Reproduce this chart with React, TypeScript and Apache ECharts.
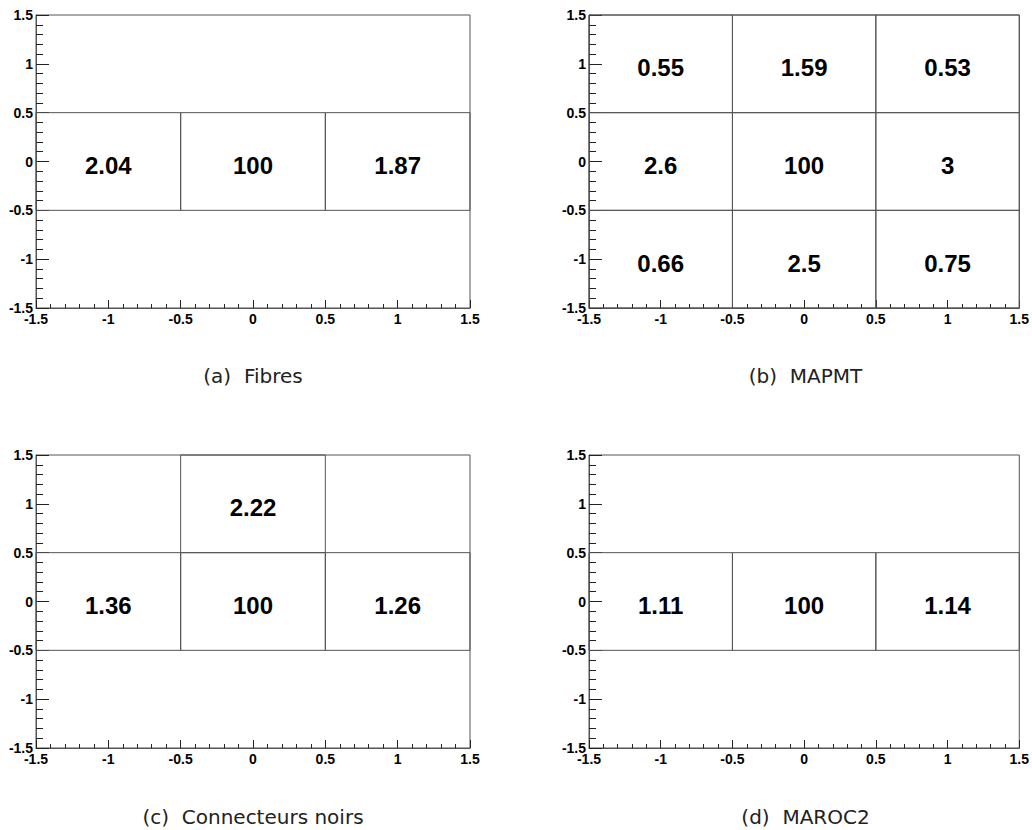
import React, { useEffect, useRef } from "react";
import * as echarts from "echarts";

// ---- data ----
const captions = ["(a)\u00a0\u00a0Fibres", "(b)\u00a0\u00a0MAPMT", "(c)\u00a0\u00a0Connecteurs noirs", "(d)\u00a0\u00a0MAROC2"];
const axisTicks = [-1.5, -1, -0.5, 0, 0.5, 1, 1.5];

// cells: [x, y, value]
const fibresCells: number[][] = [
  [-1, 0, 2.04],
  [0, 0, 100],
  [1, 0, 1.87],
];
const mapmtCells: number[][] = [
  [-1, 1, 0.55],
  [0, 1, 1.59],
  [1, 1, 0.53],
  [-1, 0, 2.6],
  [0, 0, 100],
  [1, 0, 3],
  [-1, -1, 0.66],
  [0, -1, 2.5],
  [1, -1, 0.75],
];
const connecteursCells: number[][] = [
  [0, 1, 2.22],
  [-1, 0, 1.36],
  [0, 0, 100],
  [1, 0, 1.26],
];
const marocCells: number[][] = [
  [-1, 0, 1.11],
  [0, 0, 100],
  [1, 0, 1.14],
];
const panels = [fibresCells, mapmtCells, connecteursCells, marocCells];

// ---- layout ----
const grids = [
  { left: 36, top: 15, width: 434, height: 293 },
  { left: 589, top: 15, width: 433, height: 293 },
  { left: 36, top: 455, width: 434, height: 293 },
  { left: 589, top: 455, width: 433, height: 293 },
];
const captionY = [376, 376, 817, 817];

const LINE = "#555";
const NUMFONT = '"Liberation Sans", Arial, Helvetica, sans-serif';

export default function App() {
  const ref = useRef<HTMLDivElement>(null);
  useEffect(() => {
    if (!ref.current) return;
    const chart = echarts.init(ref.current, undefined, { renderer: "svg" });
    const axisMin = axisTicks[0];
    const axisMax = axisTicks[axisTicks.length - 1];
    const option: any = {
      animation: false,
      backgroundColor: "#fff",
      grid: grids.map((g) => ({ ...g, show: true, borderColor: LINE, borderWidth: 1, backgroundColor: "transparent" })),
      xAxis: grids.map((_, i) => ({
        type: "value",
        gridIndex: i,
        min: axisMin,
        max: axisMax,
        interval: 0.5,
        axisLine: { show: true, onZero: false, lineStyle: { color: LINE, width: 1 } },
        axisTick: { show: true, inside: true, length: 8, lineStyle: { color: "#222", width: 1 } },
        minorTick: { show: true, splitNumber: 5, length: 4, lineStyle: { color: "#222", width: 1 } },
        splitLine: { show: false },
        axisLabel: {
          show: true,
          margin: 4,
          fontFamily: NUMFONT,
          fontWeight: "bold",
          fontSize: 14,
          color: "#000",
          showMinLabel: true,
          showMaxLabel: true,
        },
      })),
      yAxis: grids.map((_, i) => ({
        type: "value",
        gridIndex: i,
        min: axisMin,
        max: axisMax,
        interval: 0.5,
        axisLine: { show: true, onZero: false, lineStyle: { color: LINE, width: 1 } },
        axisTick: { show: true, inside: true, length: 13, lineStyle: { color: "#222", width: 1 } },
        minorTick: { show: true, splitNumber: 5, length: 7, lineStyle: { color: "#222", width: 1 } },
        splitLine: { show: false },
        axisLabel: {
          show: true,
          margin: 3,
          fontFamily: NUMFONT,
          fontWeight: "bold",
          fontSize: 14,
          color: "#000",
          showMinLabel: true,
          showMaxLabel: true,
        },
      })),
      series: panels.map((cells, i) => ({
        type: "custom",
        xAxisIndex: i,
        yAxisIndex: i,
        data: cells,
        clip: false,
        renderItem: (params: any, api: any) => {
          const x = api.value(0);
          const y = api.value(1);
          const v = api.value(2);
          const p0 = api.coord([x - 0.5, y + 0.5]);
          const p1 = api.coord([x + 0.5, y - 0.5]);
          return {
            type: "group",
            children: [
              {
                type: "rect",
                shape: { x: p0[0], y: p0[1], width: p1[0] - p0[0], height: p1[1] - p0[1] },
                style: { fill: "none", stroke: LINE, lineWidth: 1 },
              },
              {
                type: "text",
                style: {
                  text: String(v),
                  x: (p0[0] + p1[0]) / 2,
                  y: (p0[1] + p1[1]) / 2 + 4,
                  align: "center",
                  verticalAlign: "middle",
                  font: `bold 24px ${NUMFONT}`,
                  fill: "#000",
                },
              },
            ],
          };
        },
      })),
      graphic: grids.map((g, i) => ({
        type: "text",
        x: g.left + g.width / 2,
        y: captionY[i],
        style: {
          text: captions[i],
          align: "center",
          verticalAlign: "middle",
          font: '20px "DejaVu Sans", sans-serif',
          fill: "#222",
        },
      })),
    };
    chart.setOption(option);
    return () => chart.dispose();
  }, []);
  return (
    <div
      ref={ref}
      style={{ position: "absolute", left: 0, top: 0, width: 1032, height: 830, background: "#fff" }}
    />
  );
}
